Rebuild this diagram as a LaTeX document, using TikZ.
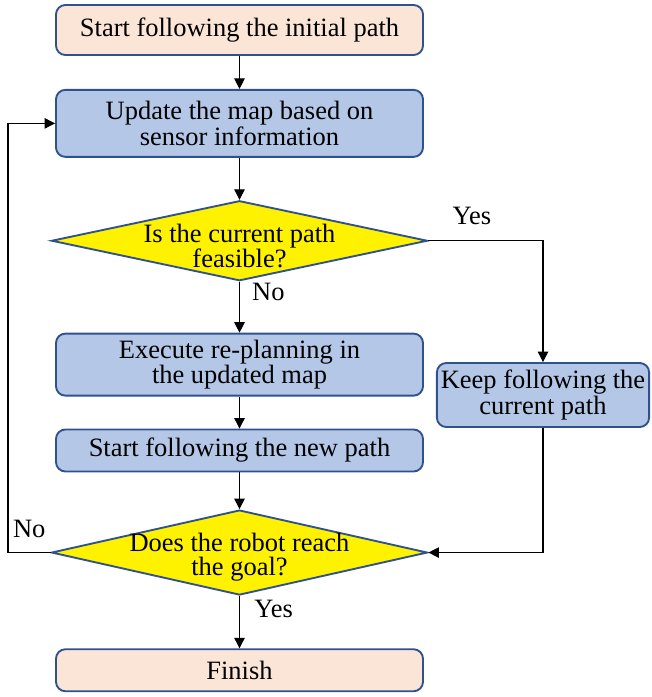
\documentclass[tikz,border=0pt]{standalone}
\usepackage{fontspec}
\setmainfont{Liberation Serif}
\usetikzlibrary{shapes.geometric, arrows.meta, positioning}
\definecolor{edgeblue}{HTML}{2F528F}
\definecolor{peach}{HTML}{FBE5D6}
\definecolor{procblue}{HTML}{B4C7E7}
\newcommand{\dline}[1]{\makebox[0pt]{\raisebox{-0.15cm}[\height][\depth]{#1}}}
\tikzstyle{startstop} = [
    rectangle,
    rounded corners=8pt,
    minimum width=11.01cm,
    minimum height=1.26cm,
    line width=1.6pt,
    draw=edgeblue,
    fill=peach
]
\tikzstyle{process} = [
    rectangle,
    rounded corners=8pt,
    minimum width=11.01cm,
    minimum height=1.26cm,
    align=center,
    line width=1.6pt,
    draw=edgeblue,
    fill=procblue
]
\tikzstyle{decision} = [
    diamond,
    aspect=1,
    inner sep=0pt,
    minimum width=11.28cm,
    minimum height=2.4cm,
    align=center,
    line width=1.6pt,
    draw=edgeblue,
    fill=yellow
]
\tikzstyle{arrow} = [line width=0.9pt,->,>={Triangle[length=9pt,width=9pt]}]
\begin{document}
\begin{tikzpicture}[font=\rmfamily\fontsize{22.6}{20.5}\selectfont]

\useasboundingbox (0,0) rectangle (19.53,-20.91);

\node (start) [startstop, minimum height=1.5cm] at (7.185,-0.9)
{Start following the initial path};

\node (update) [process, minimum height=2.01cm, below=0.99cm of start]
{Update the map based on\\sensor information};

\node (check) [decision, below=1.26cm of update]
{\dline{Is the current path}\\\dline{feasible?}};

\node (replan) [process, minimum height=1.86cm, below=1.53cm of check]
{Execute re-planning in\\the updated map};

\node (newpath) [process, below=0.96cm of replan]
{Start following the new path};

\node (goal) [decision, minimum height=2.55cm, below=1.1cm of newpath]
{\dline{Does the robot reach}\\\dline{the goal?}};

\node (finish) [startstop, below=1.57cm of goal] {Finish};

\node (keep) [process, minimum width=6.3cm, minimum height=1.92cm] at (16.29,-11.85)
{Keep following the\\current path};

\coordinate (loopx) at (0.24,0);

\draw [arrow] (start) -- (update);
\draw [arrow] (update) -- (check);
\draw [arrow] (check) -- node[pos=0.2, right=7pt] {No} (replan);
\draw [arrow] (replan) -- (newpath);
\draw [arrow] (newpath) -- (goal);
\draw [arrow] (goal) -- node[pos=0.25, right=9pt] {Yes} (finish);
\draw [arrow] (check.east) -| node[pos=0.19, above=10pt] {Yes} (keep.north);
\draw [arrow] (keep.south) |- (goal.east);
\draw [arrow] (goal.west) -- node[pos=0.5, above=9pt] {No} (goal.west -| loopx) |- (update.west);

\end{tikzpicture}
\end{document}
